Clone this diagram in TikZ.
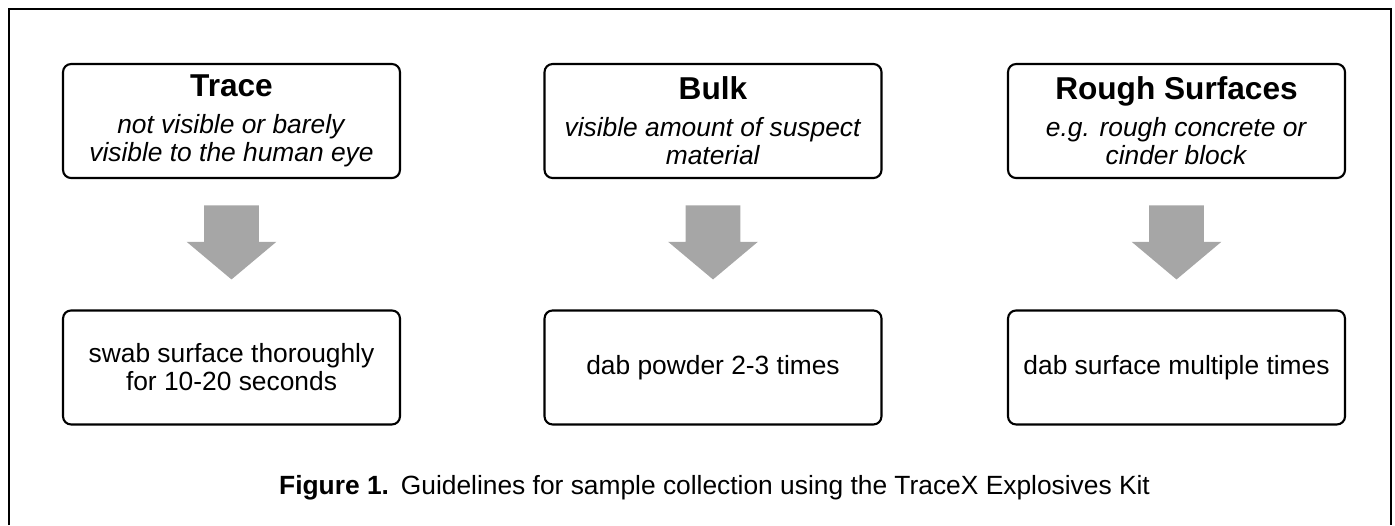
\documentclass[tikz,border=0pt]{standalone}
\usepackage{fontspec}
\setmainfont{Liberation Sans}
\usetikzlibrary{positioning, shapes.arrows}
\definecolor{arrowgray}{RGB}{166,166,166}
\newcommand{\casetitle}[1]{{\fontsize{18pt}{21pt}\selectfont\bfseries #1}}

\begin{document}
\begin{tikzpicture}[x = 0.02cm, y = -0.02cm, node distance = 2.465cm, on grid,
    case/.style = {draw, rounded corners = 0.16cm, line width = 1.2pt, align = center,
      minimum width = 6.74cm, minimum height = 2.28cm, inner sep = 0pt,
      font = \fontsize{15pt}{16pt}\selectfont},
    down/.style = {single arrow, fill = arrowgray, rotate = -90, inner sep = 0pt,
      minimum height = 1.48cm, minimum width = 1.78cm,
      single arrow head extend = 0.35cm, single arrow tip angle = 100}]
  \useasboundingbox (0,0) rectangle (1395,525);
  \draw[line width = 0.9pt] (9,525) |- (1391,9) -- (1391,525);

  % sample kinds
  \node[case] (0) at (231.5,121) {
    \casetitle{Trace} \\[5pt]
    \textit{not visible or barely} \\
    \textit{visible to the human eye}};
  \node[case] (1) at (713,121) {
    \casetitle{Bulk} \\[5pt]
    \textit{visible amount of suspect} \\
    \textit{material}};
  \node[case] (2) at (1176.5,121) {
    \casetitle{Rough Surfaces} \\[5pt]
    \textit{e.g. rough concrete or} \\
    \textit{cinder block}};

  % arrows (the rule sets the shaft width)
  \node[down] [below=2.2cm of 0] (a0) {\rule{0pt}{1.08cm}};
  \node[down] [below=2.2cm of 1] (a1) {\rule{0pt}{1.08cm}};
  \node[down] [below=2.2cm of 2] (a2) {\rule{0pt}{1.08cm}};

  % what to do
  \node[case] [below=2.73cm of a0] (3) {swab surface thoroughly \\ for 10-20 seconds};
  \node[case] [below=2.73cm of a1] (4) {dab powder 2-3 times};
  \node[case] [below=2.73cm of a2] (5) {dab surface multiple times};

  \node[anchor = base west, font = \fontsize{15pt}{16pt}\selectfont] (fig) at (273,494)
    {\textbf{Figure 1.}\hspace{0.45em}Guidelines for sample collection using the TraceX Explosives Kit};
\end{tikzpicture}
\end{document}
